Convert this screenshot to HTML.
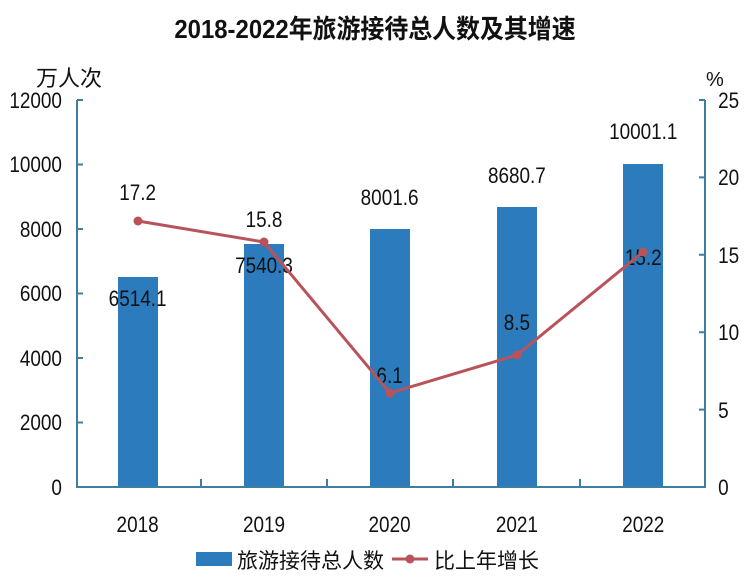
<!DOCTYPE html>
<html><head><meta charset="utf-8"><style>
html,body{margin:0;padding:0;background:#fff}
svg{display:block}
text{font-family:"Liberation Sans","Noto Sans CJK SC",sans-serif;fill:#111}
</style></head><body>
<svg width="750" height="588" viewBox="0 0 750 588" xmlns="http://www.w3.org/2000/svg">
<text x="375" y="38" font-size="26" text-anchor="middle" font-weight="bold" fill="#222" font-family="Noto Sans CJK SC,sans-serif" transform="translate(375,0) scale(0.92,1) translate(-375,0)">2018-2022年旅游接待总人数及其增速</text>
<text x="36" y="86" font-size="22" font-family="Noto Sans CJK SC,sans-serif">万人次</text>
<text x="706" y="86" font-size="20">%</text>
<g fill="#2b7bbd">
<rect x="118" y="277" width="40" height="210"/>
<rect x="244" y="244" width="40" height="243"/>
<rect x="370" y="229" width="40" height="258"/>
<rect x="497" y="207" width="40" height="280"/>
<rect x="623" y="164" width="40" height="323"/>
</g>
<g stroke="#3d7fa3" stroke-width="2" fill="none">
<path d="M77 100 V487 H705 V100"/>
<path d="M77 100h6M77 164.5h6M77 229h6M77 293.5h6M77 358h6M77 422.5h6"/>
<path d="M705 100h-6M705 177.4h-6M705 254.8h-6M705 332.2h-6M705 409.6h-6"/>
<path d="M201 487v-8M327 487v-8M453 487v-8M580 487v-8"/>
</g>
<g font-size="22" text-anchor="end" transform="scale(0.86,1)">
<text x="72" y="108">12000</text>
<text x="72" y="172">10000</text>
<text x="72" y="237">8000</text>
<text x="72" y="301">6000</text>
<text x="72" y="366">4000</text>
<text x="72" y="430">2000</text>
<text x="72" y="495">0</text>
</g>
<g font-size="22" transform="scale(0.86,1)">
<text x="835" y="108">25</text>
<text x="835" y="185">20</text>
<text x="835" y="263">15</text>
<text x="835" y="340">10</text>
<text x="835" y="418">5</text>
<text x="835" y="495">0</text>
</g>
<g font-size="22" text-anchor="middle" transform="scale(0.86,1)">
<text x="160" y="532">2018</text>
<text x="307" y="532">2019</text>
<text x="453" y="532">2020</text>
<text x="601" y="532">2021</text>
<text x="748" y="532">2022</text>
<text x="160" y="306">6514.1</text>
<text x="307" y="273">7540.3</text>
<text x="453" y="205">8001.6</text>
<text x="601" y="183">8680.7</text>
<text x="748" y="139">10001.1</text>
<text x="160" y="200">17.2</text>
<text x="307" y="227">15.8</text>
<text x="453" y="383">6.1</text>
<text x="601" y="330">8.5</text>
<text x="748" y="265">15.2</text>
</g>
<polyline points="138,221 264,242 390,393 517,355 643,252" fill="none" stroke="#b9535b" stroke-width="3"/>
<g fill="#b9535b">
<circle cx="138" cy="221" r="4.5"/><circle cx="264" cy="242" r="4.5"/><circle cx="390" cy="393" r="4.5"/><circle cx="517" cy="355" r="4.5"/><circle cx="643" cy="252" r="4.5"/>
</g>
<rect x="196" y="552" width="36" height="14" fill="#2b7bbd"/>
<text x="237" y="568" font-size="21" font-family="Noto Sans CJK SC,sans-serif">旅游接待总人数</text>
<line x1="392" y1="559" x2="428" y2="559" stroke="#b9535b" stroke-width="3"/>
<circle cx="410" cy="559" r="4.5" fill="#b9535b"/>
<text x="434" y="568" font-size="21" font-family="Noto Sans CJK SC,sans-serif">比上年增长</text>
</svg>
</body></html>
